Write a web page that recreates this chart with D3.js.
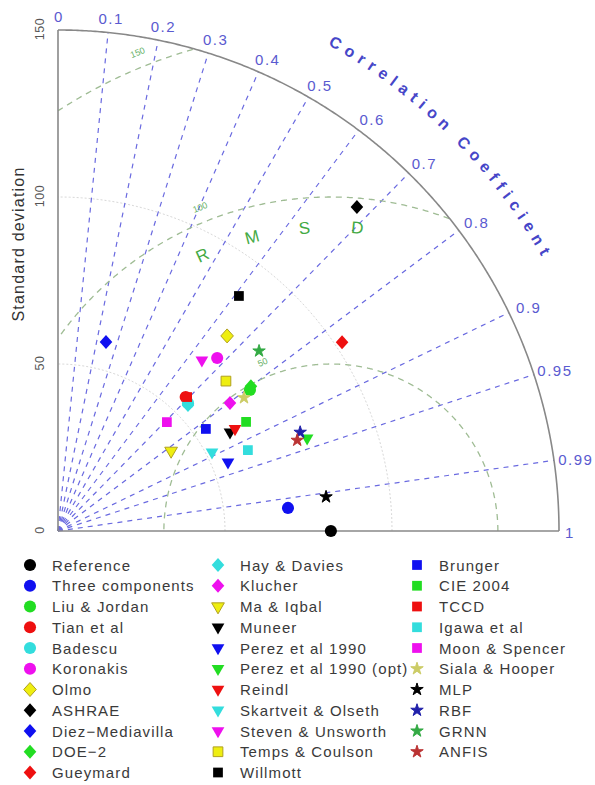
<!DOCTYPE html>
<html>
<head>
<meta charset="utf-8">
<script src="https://cdnjs.cloudflare.com/ajax/libs/d3/7.8.5/d3.min.js"></script>
<style>
  body { margin: 0; background: #fff; }
  text { font-family: "Liberation Sans", Arial, sans-serif; }
</style>
</head>
<body>
<div class="canvas taylor"></div>
<script>
// model names, in legend order
const names = ["Reference", "Three components", "Liu & Jordan", "Tian et al", "Badescu", "Koronakis", "Olmo",
  "ASHRAE", "Diez\u2212Mediavilla", "DOE\u22122", "Gueymard", "Hay & Davies", "Klucher", "Ma & Iqbal", "Muneer",
  "Perez et al 1990", "Perez et al 1990 (opt)", "Reindl", "Skartveit & Olseth", "Steven & Unsworth",
  "Temps & Coulson", "Willmott", "Brunger", "CIE 2004", "TCCD", "Igawa et al", "Moon & Spencer",
  "Siala & Hooper", "MLP", "RBF", "GRNN", "ANFIS"];

const shapes = ["circle", "circle", "circle", "circle", "circle", "circle", "diamond",
  "diamond", "diamond", "diamond", "diamond", "diamond", "diamond", "triangle", "triangle",
  "triangle", "triangle", "triangle", "triangle", "triangle",
  "square", "square", "square", "square", "square", "square", "square",
  "star", "star", "star", "star", "star"];

const colours = ["#000000", "#1010f0", "#22dd22", "#ee1010", "#33dddd", "#ee10ee", "#eeee10",
  "#000000", "#1010f0", "#22dd22", "#ee1010", "#33dddd", "#ee10ee", "#eeee10", "#000000",
  "#1010f0", "#22dd22", "#ee1010", "#33dddd", "#ee10ee",
  "#eeee10", "#000000", "#1010f0", "#22dd22", "#ee1010", "#33dddd", "#ee10ee",
  "#cccc66", "#000000", "#2020aa", "#33aa44", "#bb3333"];

// standard deviation and correlation
const stdDevs = [81.7, 69.2, 71.3, 55.4, 54.6, 70.4, 77.3,
  132.0, 58.4, 72.2, 102.1, 54.2, 64.2, 41.5, 59.4,
  54.9, 79.6, 61.2, 51.8, 66.9,
  67.4, 88.8, 53.8, 65.1, 55.7, 61.8, 46.1,
  68.5, 80.9, 78.3, 80.8, 76.6];

const correlations = [1.0, 0.995, 0.806, 0.690, 0.713, 0.677, 0.655,
  0.678, 0.246, 0.800, 0.833, 0.718, 0.802, 0.816, 0.867,
  0.927, 0.937, 0.866, 0.890, 0.644,
  0.746, 0.610, 0.823, 0.865, 0.694, 0.920, 0.707,
  0.813, 0.992, 0.926, 0.745, 0.935];

const corrTicks = [0, 0.1, 0.2, 0.3, 0.4, 0.5, 0.6, 0.7, 0.8, 0.9, 0.95, 0.99, 1];
const sdTicks = [0, 50, 100, 150];
const sdArcs = [50, 100];
const rmsdLevels = [50, 100, 150];
const rmsdLetters = ["R", "M", "S", "D"];
const refSd = 81.7;
const sdMax = 150;

const width = 595, height = 785;
const ox = 58, oy = 531;

const svg = d3.select('.canvas.taylor').append('svg')
    .attr('width', width)
    .attr('height', height);

const r = d3.scaleLinear().domain([0, sdMax]).range([0, 501]);

// polar (sd, corr) -> screen
const pt = (sd, c) => {
  const a = Math.acos(Math.max(-1, Math.min(1, c)));
  return [ox + r(sd) * Math.cos(a), oy - r(sd) * Math.sin(a)];
};

const line = d3.line();

// faint standard deviation arcs
sdArcs.forEach(s => {
  const pts = d3.range(0, 90.5, 1).map(d => [ox + r(s) * Math.cos(d * Math.PI / 180), oy - r(s) * Math.sin(d * Math.PI / 180)]);
  svg.append('path').attr('d', line(pts))
      .attr('fill', 'none').attr('stroke', '#d8d8d8')
      .attr('stroke-width', 1).attr('stroke-dasharray', '2,2');
});

// correlation rays
corrTicks.filter(c => c > 0 && c < 1).forEach(c => {
  const [x, y] = pt(sdMax, c);
  svg.append('line')
      .attr('x1', ox).attr('y1', oy).attr('x2', x).attr('y2', y)
      .attr('stroke', '#6a6ae0').attr('stroke-width', 1.2)
      .attr('stroke-dasharray', '5,5');
});

// centred RMSD arcs around the reference point
rmsdLevels.forEach(L => {
  const pts = d3.range(0, 180.25, 0.25).map(d => {
    const a = d * Math.PI / 180;
    return [refSd + L * Math.cos(a), L * Math.sin(a)];
  }).filter(p => p[0] >= 0 && Math.hypot(p[0], p[1]) <= sdMax)
    .map(p => [ox + r(p[0]), oy - r(p[1])]);
  svg.append('path').attr('d', line(pts))
      .attr('fill', 'none').attr('stroke', '#9fbc94')
      .attr('stroke-width', 1.3).attr('stroke-dasharray', '6,5');

  const a = 112 * Math.PI / 180, rr = r(L) + 15;
  svg.append('text')
      .attr('transform', `translate(${ox + r(refSd) + rr * Math.cos(a)}, ${oy - rr * Math.sin(a)}) rotate(-22)`)
      .attr('text-anchor', 'middle').attr('dominant-baseline', 'central')
      .attr('font-size', 9).attr('fill', '#66b066')
      .text(L);
});

// R M S D letters
rmsdLetters.forEach((t, i) => {
  const deg = 115 - i * 10, a = deg * Math.PI / 180, rr = 304;
  svg.append('text')
      .attr('transform', `translate(${ox + r(refSd) + rr * Math.cos(a)}, ${oy - rr * Math.sin(a)}) rotate(${-(deg - 90)})`)
      .attr('text-anchor', 'middle').attr('dominant-baseline', 'central')
      .attr('font-size', 17).attr('fill', '#44aa44')
      .text(t);
});

// outer arc and axes
const outer = d3.range(0, 90.25, 0.25).map(d => [ox + r(sdMax) * Math.cos(d * Math.PI / 180), oy - r(sdMax) * Math.sin(d * Math.PI / 180)]);
svg.append('path').attr('d', line(outer))
    .attr('fill', 'none').attr('stroke', '#888').attr('stroke-width', 1.6);
svg.append('line').attr('x1', ox).attr('y1', oy).attr('x2', ox).attr('y2', oy - r(sdMax))
    .attr('stroke', '#888').attr('stroke-width', 1.6);
svg.append('line').attr('x1', ox).attr('y1', oy).attr('x2', ox + r(sdMax)).attr('y2', oy)
    .attr('stroke', '#888').attr('stroke-width', 1.6);

// correlation labels
corrTicks.forEach(c => {
  const [x, y] = pt(sdMax, c);
  const s = Math.sqrt(1 - c * c);
  const dx = c === 1 ? 11 : 1 + 21 * c;
  svg.append('text')
      .attr('x', x + dx).attr('y', y - 15 * s + 1)
      .attr('text-anchor', 'middle').attr('dominant-baseline', 'central')
      .attr('font-size', 15).attr('letter-spacing', 1.5)
      .attr('fill', '#5a5ad0')
      .text(c);
});

// curved axis title, one letter at a time along an arc
const title = 'Correlation Coefficient';
const tr = 556, midDeg = 45.3, ls = 6;
const probe = svg.append('text')
    .attr('font-size', 16).attr('font-weight', 'bold')
    .style('white-space', 'pre')
    .text(title);
const node = probe.node();
const centres = d3.range(title.length).map(i => {
  const s = node.getStartPositionOfChar(i).x, e = node.getEndPositionOfChar(i).x;
  return (s + e) / 2 + i * ls;
});
const total = node.getComputedTextLength() + (title.length - 1) * ls;
probe.remove();
const startRad = midDeg * Math.PI / 180 + (total / 2) / tr;
title.split('').forEach((ch, i) => {
  if (ch === ' ') return;
  const a = startRad - centres[i] / tr;
  svg.append('text')
      .attr('transform', `translate(${ox + tr * Math.cos(a)}, ${oy - tr * Math.sin(a)}) rotate(${90 - a * 180 / Math.PI})`)
      .attr('text-anchor', 'middle')
      .attr('font-size', 16).attr('font-weight', 'bold')
      .attr('fill', '#4646c8')
      .text(ch);
});

// standard deviation ticks
sdTicks.forEach(s => {
  svg.append('text')
      .attr('transform', `translate(40, ${oy - r(s) - 1}) rotate(-90)`)
      .attr('text-anchor', 'middle').attr('dominant-baseline', 'central')
      .attr('font-size', 12.5).attr('letter-spacing', 0.5).attr('fill', '#555')
      .text(s);
});
svg.append('text')
    .attr('transform', 'translate(18, 244) rotate(-90)')
    .attr('text-anchor', 'middle').attr('dominant-baseline', 'central')
    .attr('font-size', 16).attr('letter-spacing', 1.2).attr('fill', '#333')
    .text('Standard deviation');

// marker shapes
const markerPath = shape => {
  if (shape === 'circle') return d3.symbol().type(d3.symbolCircle).size(115)();
  if (shape === 'square') return d3.symbol().type(d3.symbolSquare).size(95)();
  if (shape === 'star') return d3.symbol().type(d3.symbolStar).size(48)();
  if (shape === 'triangle') return d3.symbol().type(d3.symbolTriangle).size(70)();
  return 'M0,-7L6.3,0L0,7L-6.3,0Z';
};

const models = names.map((n, i) => ({
  name: n, shape: shapes[i], colour: colours[i], sd: stdDevs[i], corr: correlations[i]
}));

const drawMarker = (g, d) => {
  g.append('path')
      .attr('d', markerPath(d.shape))
      .attr('transform', d.shape === 'triangle' ? 'rotate(180)' : null)
      .attr('fill', d.colour)
      .attr('stroke', d.colour === '#eeee10' ? '#b0a020' : (d.shape === 'star' ? d.colour : 'none'))
      .attr('stroke-width', 1);
};

// points: reference drawn last so it sits on the axis
const pts = svg.append('g');
models.slice(1).concat([models[0]]).forEach(d => {
  const [x, y] = pt(d.sd, d.corr);
  const g = pts.append('g').attr('transform', `translate(${x}, ${y})`);
  drawMarker(g, d);
});

// legend in three columns
const legendX = [30, 218, 417];
const colStart = [0, 11, 22];
const legend = svg.append('g');
models.forEach((d, i) => {
  const col = i >= 22 ? 2 : (i >= 11 ? 1 : 0);
  const row = i - colStart[col];
  const y = 565 + row * 20.75;
  const g = legend.append('g').attr('transform', `translate(${legendX[col]}, ${y})`);
  drawMarker(g, d);
  legend.append('text')
      .attr('x', legendX[col] + 22).attr('y', y)
      .attr('dominant-baseline', 'central')
      .attr('font-size', 15).attr('letter-spacing', 1.1).attr('fill', '#3a3a3a')
      .text(d.name);
});
</script>
</body>
</html>
